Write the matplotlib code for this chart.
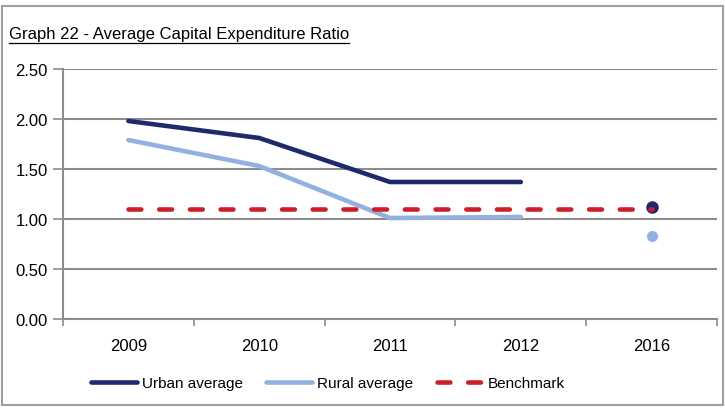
import matplotlib
matplotlib.use("Agg")
import matplotlib.pyplot as plt
from matplotlib.patches import Rectangle
import numpy as np

plt.rcParams['font.family'] = ['Liberation Sans', 'DejaVu Sans']

categories = ["2009", "2010", "2011", "2012", "2016"]
urban_line = [1.98, 1.81, 1.37, 1.37]
rural_line = [1.79, 1.53, 1.01, 1.02]
urban_2016 = 1.12
rural_2016 = 0.83
benchmark = [1.10, 1.10, 1.10, 1.10, 1.10]
yticks = [0.0, 0.5, 1.0, 1.5, 2.0, 2.5]

URBAN = "#1f2a6e"
RURAL = "#93b1e0"
BENCH = "#cc1f2a"
GRID = "#8c8c8c"

fig = plt.figure(figsize=(7.25, 4.10), dpi=100)
W, H = 725, 410
ax = fig.add_axes([63 / W, 1 - 320 / H, (717 - 63) / W, (320 - 70) / H])

x = np.arange(len(categories))
ax.plot(x[:4], urban_line, color=URBAN, lw=3.3, solid_capstyle='round', label="Urban average", zorder=3)
ax.plot(x[:4], rural_line, color=RURAL, lw=3.3, solid_capstyle='round', label="Rural average", zorder=3)
ax.plot(x, benchmark, color=BENCH, lw=3.3, dashes=(2.8, 3.9), dash_capstyle='round', label="Benchmark", zorder=4)
ax.plot([x[4]], [urban_2016], 'o', color=URBAN, ms=8, zorder=3)
ax.plot([x[4]], [rural_2016], 'o', color=RURAL, ms=7, zorder=3)

ax.set_xlim(-0.5, 4.5)
ax.set_ylim(0, 2.5)
ax.set_yticks(yticks)
ax.set_yticklabels([f"{v:.2f}" for v in yticks], fontsize=12)
ax.set_xticks(x)
ax.set_xticklabels(categories, fontsize=12)
ax.set_xticks(np.arange(-0.5, 5, 1), minor=True)
ax.tick_params(axis='x', which='major', length=0, pad=14)
ax.tick_params(axis='x', which='minor', length=5, color=GRID, width=1.2, direction='out')
ax.tick_params(axis='y', length=7, color=GRID, width=1.2, pad=4)
ax.yaxis.grid(True, color=GRID, lw=1.5)
ax.set_axisbelow(True)
for s in ['top', 'right']:
    ax.spines[s].set_visible(False)
ax.spines['left'].set_color(GRID)
ax.spines['left'].set_linewidth(1.5)
ax.spines['bottom'].set_color(GRID)
ax.spines['bottom'].set_linewidth(1.5)

leg = fig.legend(loc='center', bbox_to_anchor=(328 / W, 1 - 384 / H), ncol=3, frameon=False,
                 fontsize=11, handlelength=3.0, columnspacing=1.5, handletextpad=0.35)

t = fig.text(9 / W, 1 - 35 / H, "Graph 22 - Average Capital Expenditure Ratio", fontsize=12,
             va='center', ha='left')
fig.canvas.draw()
bb = t.get_window_extent()
fig.add_artist(plt.Line2D([bb.x0 / W, bb.x1 / W], [(bb.y0 - 1) / H, (bb.y0 - 1) / H],
                          transform=fig.transFigure, color='black', lw=0.9))

fig.add_artist(Rectangle((2 / W, 4 / H), (W - 4) / W, (H - 11) / H, transform=fig.transFigure,
                         fill=False, edgecolor='#a0a0a0', lw=1.5))

fig.savefig("out.png", dpi=100)
